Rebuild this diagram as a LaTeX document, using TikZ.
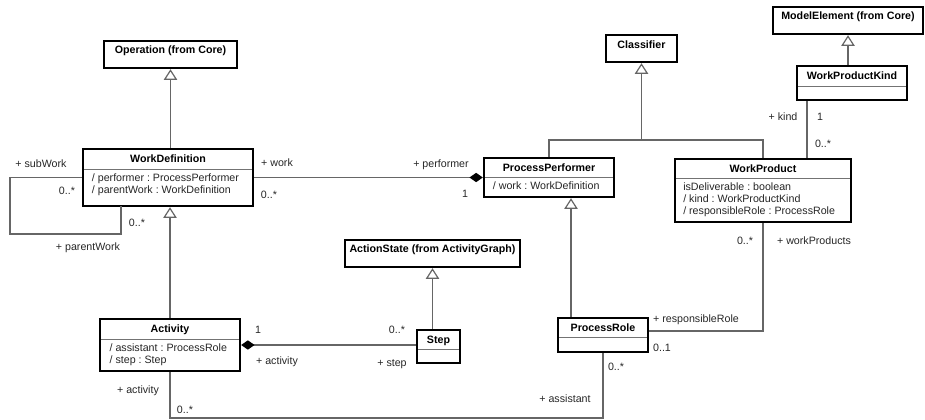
\documentclass[tikz,border=0pt]{standalone}
\usepackage{fontspec}
\setmainfont{Liberation Sans}
\usetikzlibrary{arrows.meta, positioning, fit, calc}
\tikzset{
  classbox/.style={rectangle,draw=black,line width=1.8pt,fill=white,inner sep=0pt},
  classname/.style={font=\fontsize{8}{9}\selectfont\bfseries,inner sep=0pt,text height=5.8pt,text depth=0pt},
  attrs/.style={font=\fontsize{8}{9}\selectfont\frenchspacing,align=left,inner sep=0pt,text=black!85},
  lab/.style={font=\fontsize{8}{9}\selectfont,inner sep=0pt,text=black!85,text height=5.8pt,text depth=0pt},
  sepline/.style={draw=black!55,line width=0.6pt,shorten <=0.9pt,shorten >=0.9pt},
  assoc/.style={draw=black!60,line width=0.9pt},
  gen/.style={assoc,-{Triangle[open,length=8pt,width=10pt,fill=white]}},
  comp/.style={assoc,{Diamond[length=10pt,width=7pt,color=black]}-}
}
% class box: name, x1, y1, x2, y2, separator y, title
\newcommand{\umlclass}[7]{%
  \node[classbox,fit={(#2,#3) (#4,#5)}] (#1) {};
  \coordinate (#1-sep) at (#2,#6);
  \draw[sepline] (#1-sep) -- (#4,#6);
  \node[classname] (#1-t) at ({(#2+#4)/2},{(#3+#6)/2}) {#7};
}

\begin{document}
\begin{tikzpicture}[x=0.75pt,y=-0.75pt]
  \useasboundingbox (0,0) rectangle (925,420);

  % imported classes
  \node[classbox,classname,fit={(104,41) (237,68)}] (op) {Operation (from Core)};
  \node[classbox,classname,fit={(606,35) (677,62)}] (cls) {Classifier};
  \node[classbox,classname,fit={(773,7) (923,34)}] (me) {ModelElement (from Core)};
  \node[classbox,classname,fit={(345,240) (520,267)}] (as) {ActionState (from ActivityGraph)};

  % classes of the package
  \umlclass{wd}{83}{149}{253}{206}{169}{WorkDefinition}
  \node[attrs,below right=3.5pt and 6.5pt of wd-sep] (wd-a) {/ performer : ProcessPerformer\\/ parentWork : WorkDefinition};
  \umlclass{act}{100}{319}{240}{371}{339}{Activity}
  \node[attrs,below right=3.5pt and 7pt of act-sep] (act-a) {/ assistant : ProcessRole\\/ step : Step};
  \umlclass{step}{417}{330}{460}{363}{349}{Step}
  \umlclass{pp}{484}{158}{614}{197}{177}{ProcessPerformer}
  \node[attrs,below right=3.5pt and 6.5pt of pp-sep] (pp-a) {/ work : WorkDefinition};
  \umlclass{pr}{558}{318}{648}{352}{337}{ProcessRole}
  \umlclass{wp}{675}{159}{851}{222}{178}{WorkProduct}
  \node[attrs,below right=3.5pt and 6pt of wp-sep] (wp-a) {isDeliverable : boolean\\/ kind : WorkProductKind\\/ responsibleRole : ProcessRole};
  \umlclass{wpk}{797}{66}{907}{100}{86}{WorkProductKind}

  % generalizations
  \draw[gen] (op.south |- wd.north) -- (op.south);
  \draw[gen] (act.north) -- (act.north |- wd.south);
  \draw[gen] (as.south |- step.north) -- (as.south);
  \draw[gen] (me.south |- wpk.north) -- (me.south);
  \coordinate (clsjoin) at (cls.south |- 0,140);
  \draw[gen] (clsjoin) -- (cls.south);
  \draw[assoc] (pp.north) |- (wp.north |- clsjoin) -- (wp.north);
  \coordinate (prtop) at ($(pr.north)+(-32,0)$);
  \draw[gen] (prtop) -- (prtop |- pp.south);

  % associations
  \coordinate (loop) at (10,234);
  \coordinate (loopend) at (121,206);
  \draw[assoc] (wd.west) -| (loop) -| (loopend);
  \draw[comp] (pp.west) -- (pp.west -| wd.east);
  \draw[comp] (act.east) -- (act.east -| step.west);
  \coordinate (kindend) at ($(wpk.south)+(-45,0)$);
  \draw[assoc] (kindend) -- (kindend |- wp.north);
  \draw[assoc] (wp.south) |- ($(pr.east)+(0,-4)$);
  \coordinate (botc) at (act.south |- 0,418);
  \draw[assoc] (pr.south) |- (botc) -- (act.south);

  % role names and multiplicities
  \node[lab] (l-subwork) at (41,164) {+ subWork};
  \node[lab] (l-sw-m) at (67,191) {0..*};
  \node[lab] (l-pw-m) at (137,223) {0..*};
  \node[lab] (l-parentwork) at (88,247) {+ parentWork};
  \node[lab] (l-work) at (277,163) {+ work};
  \node[lab] (l-work-m) at (269,195) {0..*};
  \node[lab] (l-perf) at (441,164) {+ performer};
  \node[lab] (l-perf-m) at (465,194) {1};
  \node[lab] (l-kind) at (783,117) {+ kind};
  \node[lab] (l-kind-m) at (820,117) {1};
  \node[lab] (l-wpk-m) at (823,144) {0..*};
  \node[lab] (l-wp-m) at (745,241) {0..*};
  \node[lab] (l-wps) at (814,241) {+ workProducts};
  \node[lab] (l-resp) at (696,319) {+ responsibleRole};
  \node[lab] (l-resp-m) at (662,348) {0..1};
  \node[lab] (l-asst-m) at (616,367) {0..*};
  \node[lab] (l-asst) at (565,399) {+ assistant};
  \node[lab] (l-act-m) at (258,330) {1};
  \node[lab] (l-act) at (277,361) {+ activity};
  \node[lab] (l-step-m) at (397,330) {0..*};
  \node[lab] (l-step) at (392,363) {+ step};
  \node[lab] (l-act2) at (138,390) {+ activity};
  \node[lab] (l-act2-m) at (185,410) {0..*};
\end{tikzpicture}
\end{document}
